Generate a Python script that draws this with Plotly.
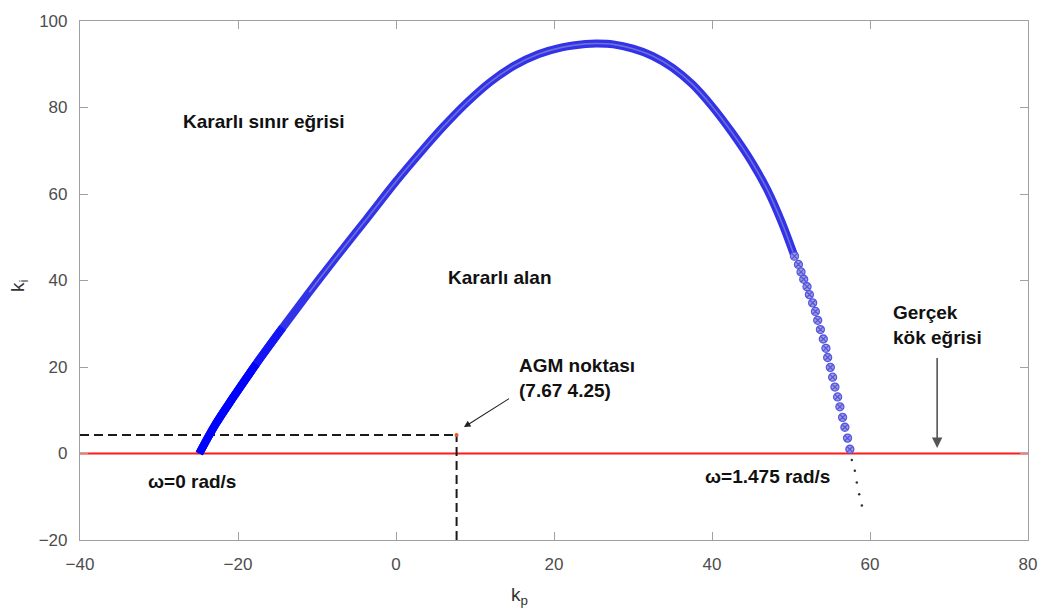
import plotly.graph_objects as go

# Stability boundary locus in the (kp, ki) plane (dense part, w from 0 upward)
boundary_kp = [-24.9, -22.9, -20.6, -17.7, -14.35, -10.98, -7.6, -3.82, -0.04, 3.0, 6.0,
               9.0, 12.0, 15.0, 18.0, 21.0, 24.0, 25.5, 27.5, 30.0, 32.5, 35.0, 37.5,
               40.0, 42.5, 45.0, 47.0, 48.8, 50.44]
boundary_ki = [0.0, 6.6, 13.0, 20.7, 29.1, 37.3, 45.3, 54.0, 62.8, 69.4, 75.6,
               81.2, 86.0, 89.7, 92.3, 93.9, 94.7, 94.8, 94.6, 93.6, 91.9, 89.2, 85.4,
               80.3, 74.3, 67.5, 61.0, 53.6, 45.63]

# Individual boundary points near the crossing at w = 1.475 rad/s
tail_kp = [50.44, 50.94, 51.27, 51.61, 52.03, 52.33, 52.74, 53.09, 53.38, 53.72, 54.09,
           54.42, 54.64, 54.98, 55.27, 55.56, 55.90, 56.19, 56.53, 56.82, 57.16, 57.45]
tail_ki = [45.63, 43.71, 41.98, 40.29, 38.56, 36.73, 34.82, 32.85, 30.80, 28.66, 26.47,
           24.32, 22.20, 19.92, 17.64, 15.36, 13.07, 10.79, 8.35, 6.07, 3.56, 0.98]

# Continuation of the locus below ki = 0
below_kp = [57.70, 58.08, 58.33, 58.63, 58.97]
below_ki = [-1.5, -4.0, -6.7, -9.4, -12.0]

# Real-root boundary (ki = 0)
real_root_kp = [-40, 80]
real_root_ki = [0, 0]

# Chosen operating point
agm_kp = 7.67
agm_ki = 4.25

x_ticks = [-40, -20, 0, 20, 40, 60, 80]
y_ticks = [-20, 0, 20, 40, 60, 80, 100]

FONT = "Arial, Liberation Sans, sans-serif"

fig = go.Figure()

# real root line
fig.add_trace(go.Scatter(x=real_root_kp, y=real_root_ki, mode="lines",
                         line=dict(color="#ff1a1a", width=2.2), hoverinfo="skip"))

# dashed guide lines to the operating point
fig.add_trace(go.Scatter(x=[-40, agm_kp], y=[agm_ki, agm_ki], mode="lines",
                         line=dict(color="#1a1a1a", width=2, dash="9px,5px"), hoverinfo="skip"))
fig.add_trace(go.Scatter(x=[agm_kp, agm_kp], y=[-20, agm_ki], mode="lines",
                         line=dict(color="#1a1a1a", width=2, dash="9px,5px"), hoverinfo="skip"))

# dense part of the boundary (markers merge into a band)
fig.add_trace(go.Scatter(x=boundary_kp, y=boundary_ki, mode="lines",
                         line=dict(color="rgb(50,50,232)", width=8, shape="spline",
                                   smoothing=1.0),
                         hoverinfo="skip"))
fig.add_trace(go.Scatter(x=boundary_kp[5:], y=boundary_ki[5:], mode="lines",
                         line=dict(color="rgb(110,110,212)", width=1.6, shape="spline",
                                   smoothing=1.0),
                         hoverinfo="skip"))
fig.add_trace(go.Scatter(x=boundary_kp[:5], y=boundary_ki[:5], mode="lines",
                         line=dict(color="rgb(20,20,245)", width=8, shape="spline"),
                         hoverinfo="skip"))
fig.add_trace(go.Scatter(x=boundary_kp[:4], y=boundary_ki[:4], mode="lines",
                         line=dict(color="rgb(0,0,255)", width=8, shape="spline"),
                         hoverinfo="skip"))

# sparse part of the boundary
fig.add_trace(go.Scatter(x=tail_kp, y=tail_ki, mode="markers",
                         marker=dict(symbol="circle-x", size=8, color="rgb(160,160,205)",
                                     line=dict(color="rgb(85,85,232)", width=1.3)),
                         hoverinfo="skip"))
fig.add_trace(go.Scatter(x=below_kp, y=below_ki, mode="markers",
                         marker=dict(symbol="circle", size=2.5, color="#333333"),
                         hoverinfo="skip"))

# operating point
fig.add_trace(go.Scatter(x=[agm_kp], y=[agm_ki], mode="markers",
                         marker=dict(symbol="circle", size=4, color="rgb(235,90,30)"),
                         hoverinfo="skip"))

txt = dict(family=FONT, size=19, color="#111111")
ann = [
    dict(x=-27.2, y=76.8, text="<b>Kararlı sınır eğrisi</b>", xanchor="left", yanchor="middle"),
    dict(x=6.3, y=40.7, text="<b>Kararlı alan</b>", xanchor="left", yanchor="middle"),
    dict(x=62.6, y=29.6, text="<b>Gerçek<br>kök eğrisi</b>", xanchor="left", yanchor="middle",
         align="left"),
    dict(x=15.3, y=17.5, text="<b>AGM noktası<br>(7.67 4.25)</b>", xanchor="left",
         yanchor="middle", align="left"),
    dict(x=-31.6, y=-6.5, text="<b>ω=0 rad/s</b>", xanchor="left", yanchor="middle"),
    dict(x=55.2, y=-5.3, text="<b>ω=1.475 rad/s</b>", xanchor="right", yanchor="middle"),
]
annotations = []
for a in ann:
    a.update(xref="x", yref="y", showarrow=False, font=txt)
    annotations.append(a)

# arrows
annotations.append(dict(x=68.5, y=1.3, ax=68.5, ay=22.4, xref="x", yref="y", axref="x",
                        ayref="y", text="", showarrow=True, arrowhead=2, arrowsize=1.3,
                        arrowwidth=1.6, arrowcolor="#555555"))
annotations.append(dict(x=8.6, y=6.1, ax=14.5, ay=12.9, xref="x", yref="y", axref="x",
                        ayref="y", text="", showarrow=True, arrowhead=2, arrowsize=1.2,
                        arrowwidth=1.1, arrowcolor="#222222"))

# axis titles
annotations.append(dict(x=0.464, y=-0.108, xref="paper", yref="paper", showarrow=False,
                        text="k<sub>p</sub>", font=dict(family=FONT, size=19, color="#333333"),
                        xanchor="center", yanchor="middle"))
annotations.append(dict(x=-0.065, y=0.49, xref="paper", yref="paper", showarrow=False,
                        text="k<sub>i</sub>", textangle=-90,
                        font=dict(family=FONT, size=19, color="#333333"),
                        xanchor="center", yanchor="middle"))

axis_common = dict(showgrid=False, zeroline=False, showline=True, linecolor="#a0a0a0",
                   linewidth=1.2, mirror="ticks", ticks="inside", ticklen=8,
                   tickcolor="#a0a0a0", tickwidth=1,
                   tickfont=dict(family=FONT, size=17, color="#4d4d4d"))

fig.update_layout(
    width=1049, height=616,
    margin=dict(l=80, r=18, t=14, b=76),
    paper_bgcolor="white", plot_bgcolor="white",
    showlegend=False,
    xaxis=dict(range=[-40, 80], tickvals=x_ticks, ticklabelstandoff=8, **axis_common),
    yaxis=dict(range=[-20, 100], tickvals=y_ticks, ticklabelstandoff=8, **axis_common),
    annotations=annotations,
)

fig.write_html("out.html")
